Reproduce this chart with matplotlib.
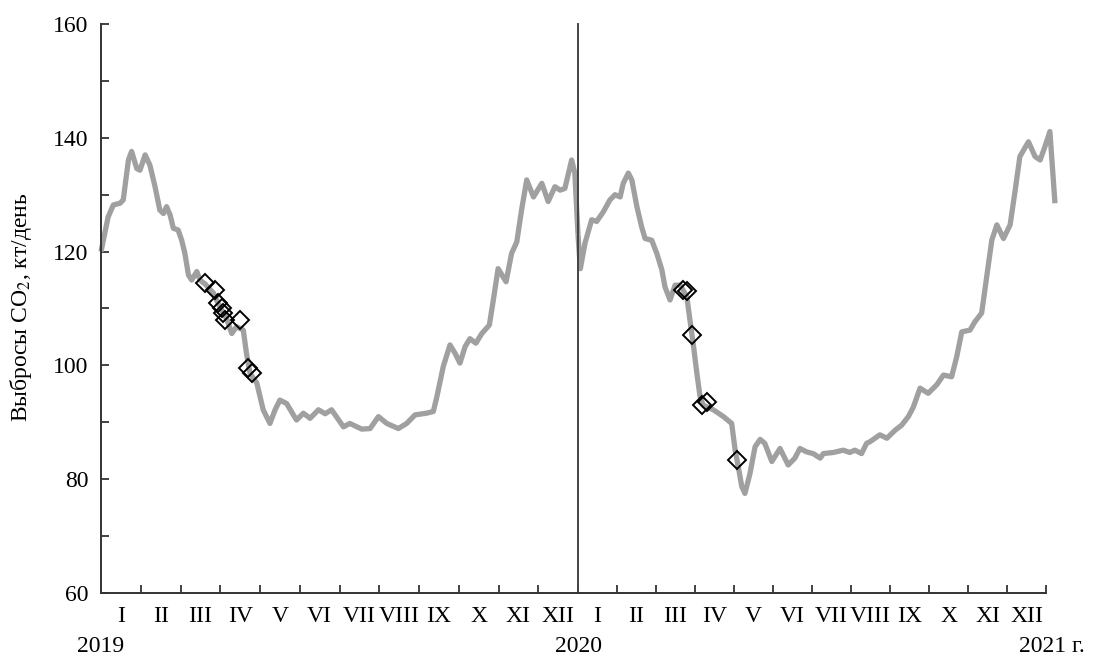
import matplotlib
matplotlib.use("Agg")
import matplotlib.pyplot as plt
import matplotlib.transforms as mtransforms

plt.rcParams['font.family'] = ['Liberation Serif', 'DejaVu Serif']
plt.rcParams['mathtext.fontset'] = 'stix'

# months since start of year (fractional) and emissions, kt/day
m2019 = [0.0, 0.18, 0.31, 0.48, 0.56, 0.69, 0.77, 0.90, 0.98, 1.11, 1.23, 1.36, 1.48, 1.57,
         1.65, 1.74, 1.82, 1.94, 2.03, 2.11, 2.20, 2.28, 2.41, 2.49, 2.62, 2.83, 2.94, 3.08,
         3.17, 3.29, 3.41, 3.58, 3.66, 3.75, 3.92, 4.08, 4.25, 4.38, 4.50, 4.67, 4.84, 4.92,
         5.09, 5.26, 5.47, 5.64, 5.80, 6.10, 6.26, 6.56, 6.77, 6.98, 7.19, 7.48, 7.69, 7.90,
         8.19, 8.36, 8.45, 8.61, 8.78, 8.91, 9.03, 9.16, 9.28, 9.43, 9.58, 9.77, 9.87, 9.99,
         10.19, 10.33, 10.46, 10.58, 10.71, 10.88, 11.09, 11.25, 11.42, 11.55, 11.67, 11.84,
         11.92, 12.0]
v2019 = [120.0, 126.1, 128.2, 128.5, 129.1, 136.1, 137.6, 134.6, 134.3, 137.0, 135.2, 131.4,
         127.3, 126.7, 127.9, 126.4, 124.1, 123.8, 122.0, 119.7, 115.9, 115.0, 116.5, 115.0,
         114.3, 112.7, 111.0, 109.2, 108.0, 105.6, 106.8, 106.2, 102.1, 98.6, 96.9, 92.2,
         89.8, 92.2, 93.9, 93.3, 91.3, 90.4, 91.6, 90.7, 92.2, 91.5, 92.2, 89.2, 89.8, 88.8,
         88.9, 91.0, 89.8, 88.9, 89.8, 91.3, 91.6, 91.9, 94.5, 99.8, 103.6, 102.1, 100.4,
         103.3, 104.7, 103.9, 105.6, 107.1, 111.5, 117.0, 114.7, 119.7, 121.7, 127.3, 132.6,
         129.6, 132.0, 128.8, 131.4, 130.8, 131.1, 136.1, 133.8, 123.0]

m2020 = [0.0, 0.06, 0.18, 0.35, 0.48, 0.65, 0.82, 0.95, 1.08, 1.16, 1.29, 1.38, 1.51, 1.63,
         1.72, 1.89, 2.02, 2.15, 2.23, 2.36, 2.49, 2.62, 2.79, 2.87, 2.96, 3.05, 3.13, 3.21,
         3.47, 3.73, 3.94, 4.03, 4.11, 4.20, 4.28, 4.41, 4.54, 4.67, 4.79, 4.97, 5.18, 5.39,
         5.56, 5.69, 5.86, 6.03, 6.21, 6.29, 6.55, 6.80, 6.97, 7.10, 7.27, 7.40, 7.49, 7.74,
         7.92, 8.13, 8.30, 8.47, 8.60, 8.77, 8.98, 9.20, 9.37, 9.58, 9.71, 9.84, 10.05, 10.18,
         10.35, 10.48, 10.61, 10.74, 10.91, 11.08, 11.21, 11.33, 11.55, 11.72, 11.85, 11.97,
         12.10, 12.23]
v2020 = [123.0, 117.0, 121.5, 125.6, 125.3, 127.0, 129.1, 130.0, 129.6, 132.0, 133.8, 132.6,
         127.9, 124.4, 122.3, 122.0, 119.7, 116.8, 113.8, 111.5, 114.1, 114.1, 112.1, 108.0,
         103.5, 98.5, 94.5, 93.0, 92.2, 91.0, 89.8, 85.1, 82.2, 78.7, 77.5, 81.0, 85.7, 87.0,
         86.3, 83.1, 85.4, 82.5, 83.7, 85.4, 84.8, 84.5, 83.7, 84.5, 84.7, 85.1, 84.7, 85.1,
         84.5, 86.3, 86.6, 87.8, 87.2, 88.6, 89.5, 91.0, 92.7, 96.0, 95.1, 96.6, 98.3, 98.0,
         101.5, 105.9, 106.2, 107.7, 109.2, 115.6, 122.0, 124.7, 122.3, 124.7, 130.8, 136.7,
         139.3, 136.7, 136.1, 138.4, 141.1, 128.5]

# open diamonds
mk2019_x = [2.62, 2.87, 2.95, 3.04, 3.08, 3.12, 3.50, 3.71, 3.79]
mk2019_y = [114.4, 113.3, 110.9, 110.0, 109.2, 108.0, 108.0, 99.5, 98.6]
mk2020_x = [2.70, 2.79, 2.92, 3.17, 3.30, 4.07]
mk2020_y = [113.3, 113.0, 105.3, 93.0, 93.6, 83.4]

months = ['I', 'II', 'III', 'IV', 'V', 'VI', 'VII', 'VIII', 'IX', 'X', 'XI', 'XII']

W, H = 1104, 659
fig = plt.figure(figsize=(W / 100, H / 100), dpi=100)
bottom = (H - 593) / H
height = (593 - 24) / H
ax1 = fig.add_axes([101 / W, bottom, (578 - 101) / W, height])
ax2 = fig.add_axes([578 / W, bottom, (1046 - 578) / W, height])

fs = 17
line_col = '#a0a0a0'
for ax, mx, mv, kx, ky in [(ax1, m2019, v2019, mk2019_x, mk2019_y),
                           (ax2, m2020, v2020, mk2020_x, mk2020_y)]:
    ax.plot(mx, mv, color=line_col, lw=3.8, solid_capstyle='butt', clip_on=False, zorder=2)
    ax.plot(kx, ky, ls='none', marker='D', ms=9.5, mfc='none', mec='black', mew=1.4,
            clip_on=False, zorder=3)
    ax.set_xlim(0, 12)
    ax.set_ylim(60, 160)
    ax.spines['top'].set_visible(False)
    ax.spines['right'].set_visible(False)
    for s in ['left', 'bottom']:
        ax.spines[s].set_linewidth(1.4)
        ax.spines[s].set_color('#333333')
    ax.set_xticks(range(1, 13))
    ax.set_xticklabels([])
    ax.set_xticks([i + 0.5 for i in range(12)], minor=True)
    ax.set_xticklabels(months, minor=True)
    ax.tick_params(axis='x', which='major', direction='in', length=6, width=1.3, color='#333333')
    ax.tick_params(axis='x', which='minor', length=0, pad=9, labelsize=fs)
    ax.patch.set_alpha(0)

ax1.set_yticks(range(60, 161, 20))
ax1.set_yticks(range(70, 160, 20), minor=True)
ax1.tick_params(axis='y', which='both', direction='in', length=6, width=1.3,
                color='#333333', labelsize=fs, pad=9)
ax2.set_yticks([])
ax2.spines['left'].set_color('#444444')

fig.text(21 / W, 1 - 307 / H, 'Выбросы CO$_2$, кт/день', rotation=90,
         ha='center', va='center', fontsize=fs)

tr1 = mtransforms.blended_transform_factory(ax1.transData, ax1.transAxes)
tr2 = mtransforms.blended_transform_factory(ax2.transData, ax2.transAxes)
yy = -0.094
ax1.text(0, yy, '2019', transform=tr1, ha='center', va='center', fontsize=fs)
ax1.text(12, yy, '2020', transform=tr1, ha='center', va='center', fontsize=fs)
ax2.text(11.3, yy, '2021 г.', transform=tr2, ha='left', va='center', fontsize=fs)

fig.savefig('out.png', dpi=100)
